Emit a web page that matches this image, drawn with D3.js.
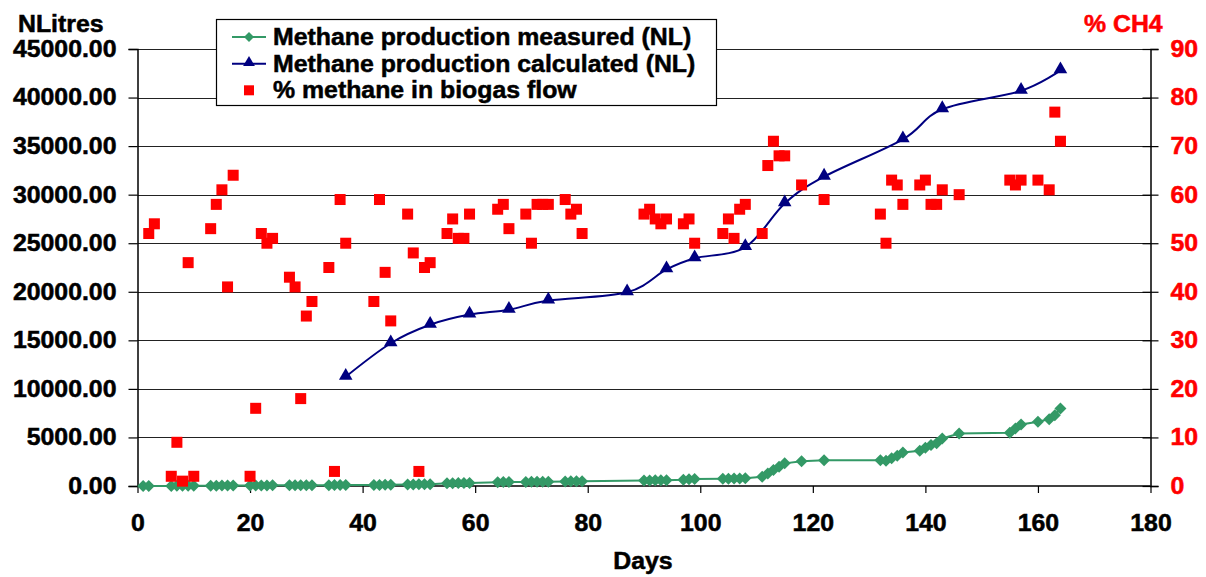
<!DOCTYPE html>
<html><head><meta charset="utf-8">
<script src="https://cdn.jsdelivr.net/npm/d3@7"></script>
<style>
body{margin:0;background:#fff;}
text{font-family:"Liberation Sans",Arial,sans-serif;font-weight:bold;}
</style></head>
<body><svg id="c" width="1206" height="577"></svg>
<script>
// ---- data ----
const measuredDays = [1,2,6,7,8,9,10,13,14,15,16,17,20,21,22,23,24,27,28,29,30,31,34,35,36,37,42,43,44,45,48,49,50,51,52,55,56,57,58,59,64,65,66,69,70,71,72,73,76,77,78,79,90,91,92,93,94,97,98,99,104,105,106,107,108,111,112,113,114,115,118,122,132,133,134,135,136,139,140,141,142,143,146,155,156,157,160,162,163,164];
const measuredValues = [0,0,10,15,20,20,25,30,35,40,40,45,50,55,60,60,65,70,75,80,80,85,90,95,100,100,110,115,120,125,150,160,170,180,190,280,290,300,310,320,390,400,410,420,425,430,435,440,470,480,490,500,560,570,580,590,600,640,690,730,740,750,760,770,790,960,1300,1640,1980,2330,2550,2650,2650,2600,2850,3120,3450,3630,3940,4210,4400,4900,5410,5480,5930,6340,6610,6880,7290,7980];
const calcDays = [37,45,52,59,66,73,87,94,99,108,115,122,136,143,157,164];
const calcValues = [11250,14700,16600,17650,18150,19100,19950,22300,23450,24600,29100,31850,35700,38800,40700,42800];
const pctDays = [2,3,6,7,8,9,10,13,14,15,16,17,20,21,22,23,24,27,28,29,30,31,34,35,36,37,42,43,44,45,48,49,50,51,52,55,56,57,58,59,64,65,66,69,70,71,72,73,76,77,78,79,90,91,92,93,94,97,98,99,104,105,106,107,108,111,112,113,114,115,118,122,132,133,134,135,136,139,140,141,142,143,146,155,156,157,160,162,163,164];
const pctValues = [52,54,2,9,1,46,2,53,58,61,41,64,2,16,52,50,51,43,41,18,35,38,45,3,59,50,38,59,44,34,56,48,3,45,46,52,55,51,51,56,57,58,53,56,50,58,58,58,59,56,57,52,56,57,55,54,55,54,55,50,52,55,51,57,58,52,66,71,68,68,62,59,56,50,63,62,58,62,63,58,58,61,60,63,62,63,63,61,77,71];
const xTicks = [0,20,40,60,80,100,120,140,160,180];
const yLeftTicks = [0,5000,10000,15000,20000,25000,30000,35000,40000,45000];
const yRightTicks = [0,10,20,30,40,50,60,70,80,90];
const legendLabels = ["Methane production measured (NL)","Methane production calculated (NL)","% methane in biogas flow"];

const GREEN="#339966", NAVY="#000080", RED="#FF0000";
const svg = d3.select("#c");
const x = d3.scaleLinear([0,180],[137.5,1150.5]);
const yL = d3.scaleLinear([0,45000],[486,49]);
const yR = d3.scaleLinear([0,90],[486,49]);
const FS = 23, SX = 1.08;

// gridlines
svg.append("g").selectAll("line").data(yLeftTicks.filter(d=>d>0)).join("line")
  .attr("x1",x(0)).attr("x2",x(180)).attr("y1",d=>Math.round(yL(d))+0.5).attr("y2",d=>Math.round(yL(d))+0.5)
  .attr("stroke","#222").attr("stroke-width",1);

// axes
const ax = svg.append("g").attr("transform",`translate(0,486)`)
  .call(d3.axisBottom(x).tickValues(xTicks).tickSize(7).tickPadding(22).tickFormat(d3.format("d")));
const ay = svg.append("g").attr("transform",`translate(137.5,0)`)
  .call(d3.axisLeft(yL).tickValues(yLeftTicks).tickSize(9).tickPadding(12).tickFormat(d3.format(".2f")));
const ar = svg.append("g").attr("transform",`translate(1150.5,0)`)
  .call(d3.axisRight(yR).tickValues(yRightTicks).tickSize(8).tickPadding(12).tickFormat(d3.format("d")));
ar.selectAll(".tick line").attr("x1",-8);
[ax,ay,ar].forEach(g=>{
  g.select(".domain").attr("stroke","#000").attr("stroke-width",1.5);
  g.selectAll(".tick line").attr("stroke","#000").attr("stroke-width",1.2);
  g.selectAll("text").attr("font-size",FS).attr("font-weight","bold").attr("font-family","'Liberation Sans',Arial,sans-serif").classed("st",true);
});
ax.select(".domain").attr("d","M137.5,0H1150.5");
ay.selectAll("text").attr("fill","#000").attr("stroke","#000");
ax.selectAll("text").attr("fill","#000").attr("stroke","#000");
ar.selectAll("text").attr("fill",RED).attr("stroke",RED);

// measured line
const mData = measuredDays.map((d,i)=>[d,measuredValues[i]]);
svg.append("path").datum(mData)
  .attr("d",d3.line().x(d=>x(d[0])).y(d=>yL(d[1])))
  .attr("fill","none").attr("stroke",GREEN).attr("stroke-width",2);
const diamond = "M0,-6L6,0L0,6L-6,0Z";
svg.append("g").selectAll("path").data(mData).join("path")
  .attr("d",diamond).attr("transform",d=>`translate(${x(d[0])},${yL(d[1])})`).attr("fill",GREEN);

// calculated line
const cData = calcDays.map((d,i)=>[d,calcValues[i]]);
svg.append("path").datum(cData)
  .attr("d",d3.line().curve(d3.curveCardinal).x(d=>x(d[0])).y(d=>yL(d[1])))
  .attr("fill","none").attr("stroke",NAVY).attr("stroke-width",2);
const tri = d3.symbol(d3.symbolTriangle,80);
svg.append("g").selectAll("path").data(cData).join("path")
  .attr("d",tri).attr("transform",d=>`translate(${x(d[0])},${yL(d[1])-1})`).attr("fill",NAVY);

// pct squares
const pData = pctDays.map((d,i)=>[d,pctValues[i]]);
svg.append("g").selectAll("rect").data(pData).join("rect")
  .attr("x",d=>x(d[0])-5.5).attr("y",d=>yR(d[1])-5.5).attr("width",11).attr("height",11).attr("fill",RED);

// titles
svg.append("text").attr("class","st").attr("x",18).attr("y",31.5).attr("font-size",FS).attr("fill","#000").attr("stroke","#000").text("NLitres");
svg.append("text").attr("class","st").attr("x",1084).attr("y",31.5).attr("font-size",FS).attr("fill",RED).attr("stroke",RED).text("% CH4");
svg.append("text").attr("class","st").attr("x",643).attr("y",569).attr("text-anchor","middle").attr("font-size",FS).attr("fill","#000").attr("stroke","#000").text("Days");

// legend
const lg = svg.append("g");
lg.append("rect").attr("x",216.5).attr("y",19.5).attr("width",500).attr("height",86).attr("fill","#fff").attr("stroke","#000").attr("stroke-width",1.2);
const rows=[45,71.7,98.3];
lg.append("line").attr("x1",232).attr("x2",266).attr("y1",rows[0]-8).attr("y2",rows[0]-8).attr("stroke",GREEN).attr("stroke-width",2);
lg.append("path").attr("d","M0,-5L5,0L0,5L-5,0Z").attr("transform",`translate(249,${rows[0]-8})`).attr("fill",GREEN);
lg.append("line").attr("x1",232).attr("x2",266).attr("y1",rows[1]-8).attr("y2",rows[1]-8).attr("stroke",NAVY).attr("stroke-width",2);
lg.append("path").attr("d",d3.symbol(d3.symbolTriangle,60)).attr("transform",`translate(249,${rows[1]-9})`).attr("fill",NAVY);
lg.append("rect").attr("x",244).attr("y",rows[2]-13).attr("width",10).attr("height",10).attr("fill",RED);
legendLabels.forEach((t,i)=>{
  lg.append("text").attr("class","st").attr("x",273).attr("y",rows[i]).attr("font-size",FS).attr("fill","#000").attr("stroke","#000").text(t);
});

// heavier, slightly wider glyphs as in the reference
svg.selectAll("text.st").attr("stroke-width",0.5).each(function(){
  const l=this.getComputedTextLength();
  d3.select(this).attr("textLength",l*SX).attr("lengthAdjust","spacingAndGlyphs");
});
</script></body></html>
